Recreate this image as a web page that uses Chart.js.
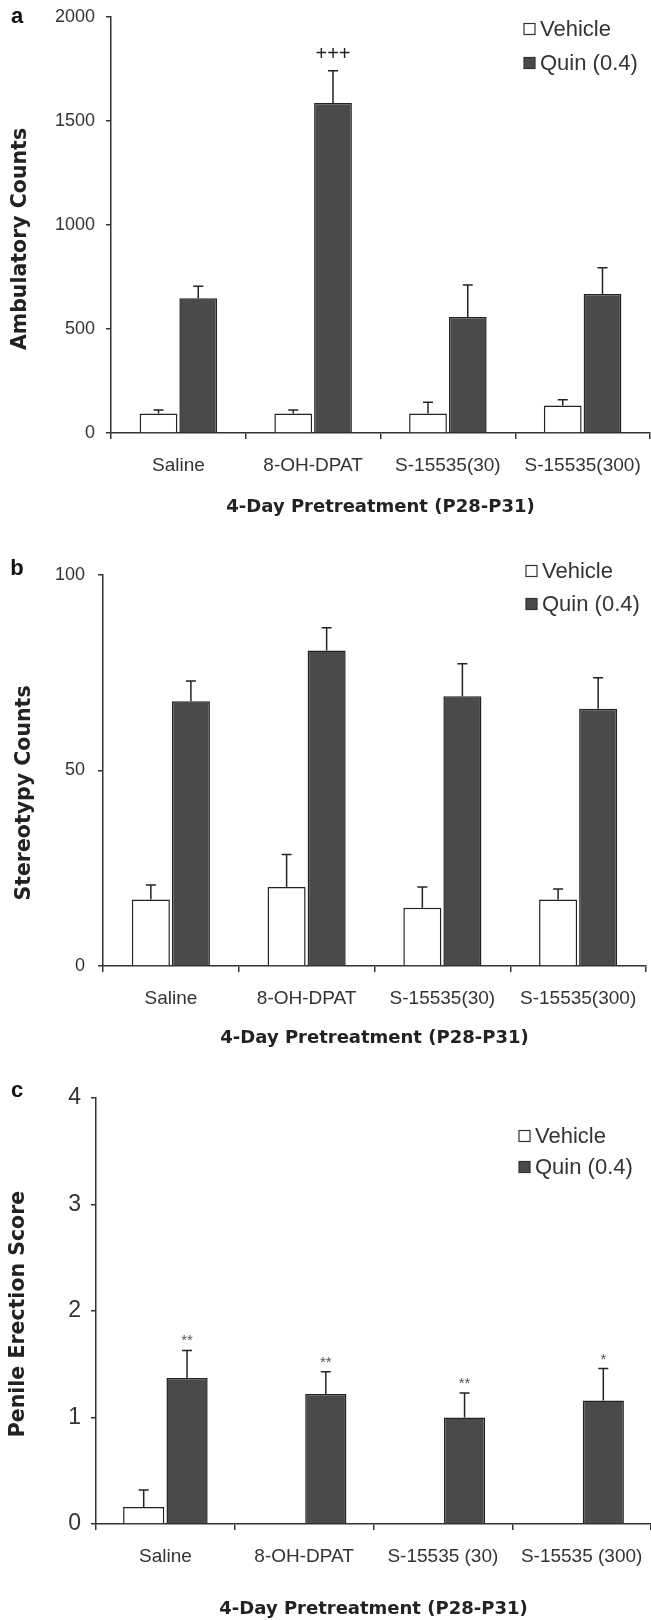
<!DOCTYPE html>
<html>
<head>
<meta charset="utf-8">
<title>4-Day Pretreatment (P28-P31)</title>
<script src="https://cdn.jsdelivr.net/npm/chart.js@4.4.1/dist/chart.umd.min.js"></script>
<style>
  body { margin: 0; background: #fff; }
  .panel { position: relative; width: 651px; }
  .panel canvas { display: block; }
</style>
</head>
<body>
<div class="panel" style="height:540px"><canvas id="chartA"></canvas></div>
<div class="panel" style="height:520px"><canvas id="chartB"></canvas></div>
<div class="panel" style="height:560px"><canvas id="chartC"></canvas></div>
<script>
const categories = ['Saline', '8-OH-DPAT', 'S-15535(30)', 'S-15535(300)'];
const categoriesPE = ['Saline', '8-OH-DPAT', 'S-15535 (30)', 'S-15535 (300)'];
const seriesNames = ['Vehicle', 'Quin (0.4)'];
const xTitle = '4-Day Pretreatment (P28-P31)';

// a - ambulatory counts (mean, SEM)
const ambVehicle = [94, 94, 94, 132];
const ambVehicleSem = [16, 16, 54, 28];
const ambQuin = [648, 1586, 558, 668];
const ambQuinSem = [58, 156, 154, 126];
const ambMarks = ['', '+++', '', ''];
const ambTicks = [0, 500, 1000, 1500, 2000];

// b - stereotypy counts
const stereoVehicle = [17.0, 20.2, 14.9, 17.0];
const stereoVehicleSem = [3.7, 8.3, 5.3, 2.7];
const stereoQuin = [67.7, 80.7, 69.0, 65.8];
const stereoQuinSem = [5.2, 5.8, 8.3, 7.9];
const stereoTicks = [0, 50, 100];

// c - penile erection score
const peVehicle = [0.16, 0, 0, 0];
const peVehicleSem = [0.16, 0, 0, 0];
const peQuin = [1.37, 1.22, 1.00, 1.16];
const peQuinSem = [0.26, 0.21, 0.23, 0.30];
const peMarks = ['**', '**', '**', '*'];
const peTicks = [0, 1, 2, 3, 4];

const sansFont = '"Liberation Sans", Arial, sans-serif';
const wideFont = '"DejaVu Sans", Verdana, sans-serif';

// whiskers, significance marks, y title, in-plot legend and panel letter
const decorations = {
  id: 'decorations',
  afterDatasetsDraw(chart, args, opts) {
    const ctx = chart.ctx;
    const y = chart.scales.y;
    ctx.save();
    chart.data.datasets.forEach((ds, i) => {
      chart.getDatasetMeta(i).data.forEach((bar, j) => {
        const sem = ds.sem[j];
        if (!sem) return;
        const top = y.getPixelForValue(ds.data[j] + sem);
        ctx.strokeStyle = '#222';
        ctx.lineWidth = 1.5;
        ctx.beginPath();
        ctx.moveTo(bar.x, bar.y);
        ctx.lineTo(bar.x, top);
        ctx.moveTo(bar.x - 5, top);
        ctx.lineTo(bar.x + 5, top);
        ctx.stroke();
        if (ds.marks && ds.marks[j]) {
          ctx.fillStyle = opts.markColor;
          ctx.font = opts.markFont;
          ctx.textAlign = 'center';
          ctx.textBaseline = 'alphabetic';
          ctx.fillText(ds.marks[j], bar.x, top - opts.markGap);
        }
      });
    });

    // y axis title
    ctx.save();
    ctx.translate(opts.yTitleX, opts.yTitleY);
    ctx.rotate(-Math.PI / 2);
    ctx.font = 'bold 20.5px ' + wideFont;
    ctx.fillStyle = '#222';
    ctx.textAlign = 'center';
    ctx.textBaseline = 'middle';
    ctx.fillText(opts.yTitle, 0, 0);
    ctx.restore();

    // legend
    ctx.font = '22px ' + sansFont;
    ctx.textAlign = 'left';
    ctx.textBaseline = 'middle';
    chart.data.datasets.forEach((ds, i) => {
      const ly = opts.legendY[i];
      ctx.fillStyle = ds.backgroundColor;
      ctx.fillRect(opts.legendX, ly - 5.5, 11, 11);
      ctx.strokeStyle = '#333';
      ctx.lineWidth = 1.2;
      ctx.strokeRect(opts.legendX, ly - 5.5, 11, 11);
      ctx.fillStyle = '#333';
      ctx.fillText(ds.label, opts.legendX + 16, ly + 1);
    });

    // panel letter
    ctx.font = 'bold 22px ' + sansFont;
    ctx.textAlign = 'center';
    ctx.fillStyle = '#111';
    ctx.fillText(opts.letter, 17, opts.letterY);
    ctx.restore();
  }
};

function makeChart(id, p) {
  return new Chart(document.getElementById(id), {
    type: 'bar',
    data: {
      labels: p.labels,
      datasets: [{
        label: seriesNames[0],
        data: p.vehicle,
        sem: p.vehicleSem,
        backgroundColor: '#ffffff',
        borderColor: '#222',
        borderWidth: 1.5
      }, {
        label: seriesNames[1],
        data: p.quin,
        sem: p.quinSem,
        marks: p.marks,
        backgroundColor: '#4a4a4a',
        borderColor: '#222',
        borderWidth: 1.5
      }]
    },
    options: {
      responsive: true,
      maintainAspectRatio: false,
      animation: false,
      categoryPercentage: p.catPct,
      barPercentage: 0.95,
      layout: { padding: { left: 0, right: p.padRight, top: p.padTop, bottom: 0 } },
      scales: {
        x: {
          ticks: { font: { family: sansFont, size: 19 }, color: '#333', padding: 15, maxRotation: 0, autoSkip: false },
          grid: { drawOnChartArea: false, tickLength: 6, color: '#333', lineWidth: 1.5 },
          border: { color: '#333', width: 1.5 },
          title: {
            display: true, text: xTitle, color: '#222',
            font: { family: wideFont, size: 18, weight: 'bold' },
            padding: { top: 0, bottom: p.xTitlePad }
          },
          afterFit: s => { s.height = p.xHeight; s.paddingLeft = 0; s.paddingRight = 0; }
        },
        y: {
          min: p.ticks[0],
          max: p.ticks[p.ticks.length - 1],
          ticks: {
            stepSize: p.ticks[1] - p.ticks[0],
            callback: v => String(v),
            font: { family: sansFont, size: p.yTickSize }, color: '#333', padding: p.yTickPad
          },
          grid: { drawOnChartArea: false, tickLength: 5, color: '#333', lineWidth: 1.5 },
          border: { color: '#333', width: 1.5 },
          afterFit: s => { s.width = p.yWidth; s.paddingTop = 0; s.paddingBottom = 0; }
        }
      },
      plugins: {
        legend: { display: false },
        tooltip: { enabled: false },
        decorations: p.deco
      }
    },
    plugins: [decorations]
  });
}

makeChart('chartA', {
  labels: categories, vehicle: ambVehicle, vehicleSem: ambVehicleSem,
  quin: ambQuin, quinSem: ambQuinSem, marks: ambMarks, ticks: ambTicks,
  yTickSize: 18, yTickPad: 11, yWidth: 111,
  xHeight: 107, xTitlePad: 22, padTop: 17, padRight: 1, catPct: 0.59,
  deco: { letter: 'a', letterY: 17, legendX: 524, legendY: [29, 63],
          yTitle: 'Ambulatory Counts', yTitleX: 21, yTitleY: 239,
          markFont: '20px ' + sansFont, markColor: '#222', markGap: 11 }
});

makeChart('chartB', {
  labels: categories, vehicle: stereoVehicle, vehicleSem: stereoVehicleSem,
  quin: stereoQuin, quinSem: stereoQuinSem, marks: null, ticks: stereoTicks,
  yTickSize: 18, yTickPad: 13, yWidth: 103,
  xHeight: 94, xTitlePad: 11, padTop: 35, padRight: 5, catPct: 0.59,
  deco: { letter: 'b', letterY: 29, legendX: 526, legendY: [31, 64],
          yTitle: 'Stereotypy Counts', yTitleX: 25, yTitleY: 253,
          markFont: '20px ' + sansFont, markColor: '#222', markGap: 11 }
});

makeChart('chartC', {
  labels: categoriesPE, vehicle: peVehicle, vehicleSem: peVehicleSem,
  quin: peQuin, quinSem: peQuinSem, marks: peMarks, ticks: peTicks,
  yTickSize: 23, yTickPad: 10, yWidth: 96,
  xHeight: 96, xTitlePad: 0, padTop: 38, padRight: 0, catPct: 0.625,
  deco: { letter: 'c', letterY: 31, legendX: 519, legendY: [76, 107],
          yTitle: 'Penile Erection Score', yTitleX: 19, yTitleY: 254,
          markFont: '15px ' + sansFont, markColor: '#555', markGap: 5 }
});
</script>
</body>
</html>
